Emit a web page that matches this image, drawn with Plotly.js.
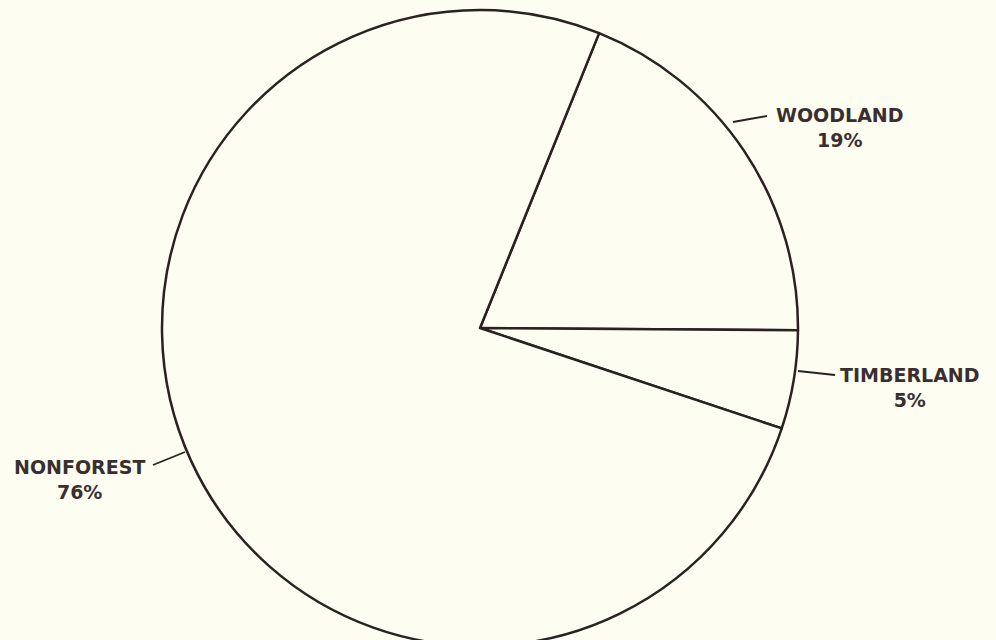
<!DOCTYPE html>
<html>
<head>
<meta charset="utf-8">
<script src="https://cdn.plot.ly/plotly-3.0.1.min.js"></script>
<style>
html,body{margin:0;padding:0;background:#fdfdf2;overflow:hidden;}
#chart{width:996px;height:660px;}
</style>
</head>
<body>
<div id="chart"></div>
<script>
// Data
var categories = ["WOODLAND", "TIMBERLAND", "NONFOREST"];
var percents = [19, 5, 76];
var percentLabels = ["19%", "5%", "76%"];

var BG = "#fdfdf2";
var INK = "#2b2121";
var TXT = "#3a2f2f";

// plot area in pixels: x 0..960, y 10..646
var PL = 0, PW = 960, PT = 10, PH = 636;
function px(x){ return (x - PL) / PW; }
function py(y){ return (PT + PH - y) / PH; }

// label placement (pixel centres) and leader lines
var labelPos = [[840, 127], [910, 387], [79, 480]];
var leaders = [[733, 122, 767, 116], [798, 371, 835, 375], [153, 465, 185, 452]];

var trace = {
  type: "pie",
  labels: categories,
  values: percents,
  sort: false,
  direction: "clockwise",
  rotation: 22,
  textinfo: "none",
  hoverinfo: "none",
  showlegend: false,
  marker: {
    colors: [BG, BG, BG],
    line: {color: INK, width: 2.5}
  }
};

var annotations = categories.map(function(c, i){
  return {
    xref: "paper", yref: "paper",
    x: px(labelPos[i][0]), y: py(labelPos[i][1]),
    xanchor: "center", yanchor: "middle",
    text: "<b>" + c + "</b><br><b>" + percentLabels[i] + "</b>",
    showarrow: false,
    align: "center",
    font: {family: "DejaVu Sans", size: 19, color: TXT}
  };
});

var shapes = leaders.map(function(l){
  return {
    type: "line", xref: "paper", yref: "paper",
    x0: px(l[0]), y0: py(l[1]), x1: px(l[2]), y1: py(l[3]),
    line: {color: INK, width: 1.8}
  };
});

var layout = {
  width: 996,
  height: 660,
  margin: {l: 0, r: 36, t: 10, b: 14, pad: 0},
  paper_bgcolor: BG,
  plot_bgcolor: BG,
  annotations: annotations,
  shapes: shapes,
  showlegend: false
};

Plotly.newPlot("chart", [trace], layout, {displayModeBar: false, staticPlot: true});
</script>
</body>
</html>
